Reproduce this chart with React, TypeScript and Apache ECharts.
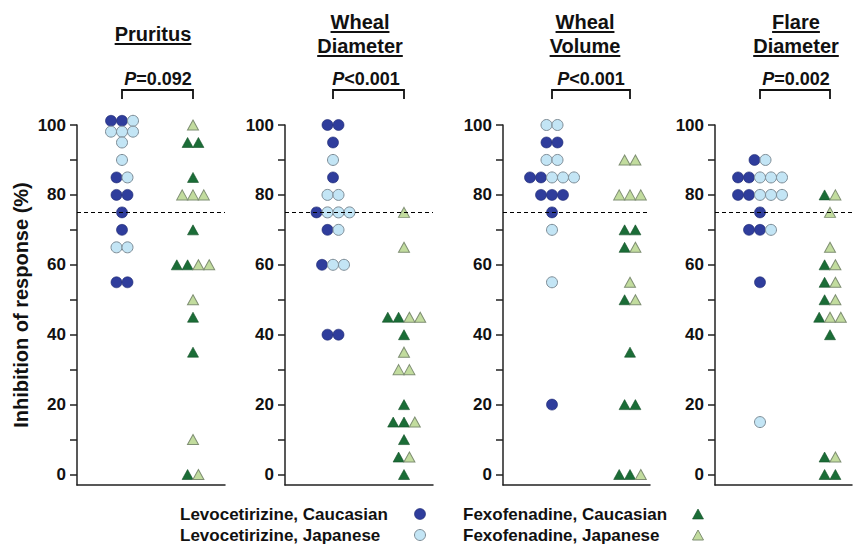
import React, { useEffect, useRef } from "react";
import * as echarts from "echarts";

// ---------- data ----------
const seriesNames = [
  "Levocetirizine, Caucasian",
  "Levocetirizine, Japanese",
  "Fexofenadine, Caucasian",
  "Fexofenadine, Japanese",
];
const panelTitles = [["Pruritus"], ["Wheal", "Diameter"], ["Wheal", "Volume"], ["Flare", "Diameter"]];
const pValues = ["=0.092", "<0.001", "<0.001", "=0.002"];
const yLabelValues = [0, 20, 40, 60, 80, 100];
const yTickValues = [0, 10, 20, 30, 40, 50, 60, 70, 80, 90, 100];
const threshold = 75;

// Pruritus
const pruLevoCau = [101.2, 101.2, 85, 80, 80, 75, 70, 55, 55];
const pruLevoJap = [101.2, 98.1, 98.1, 98.1, 95, 90, 85, 65, 65];
const pruFexoCau = [95, 95, 85, 70, 60, 60, 45, 35, 0];
const pruFexoJap = [100, 80, 80, 80, 60, 60, 50, 10, 0];
// Wheal diameter
const whdLevoCau = [100, 100, 95, 85, 75, 70, 60, 40, 40];
const whdLevoJap = [90, 80, 80, 75, 75, 75, 70, 60, 60];
const whdFexoCau = [45, 45, 40, 20, 15, 15, 10, 5, 0];
const whdFexoJap = [75, 65, 45, 45, 35, 30, 30, 15, 5];
// Wheal volume
const whvLevoCau = [95, 95, 85, 85, 80, 80, 80, 75, 20];
const whvLevoJap = [100, 100, 90, 90, 85, 85, 85, 70, 55];
const whvFexoCau = [70, 70, 65, 50, 35, 20, 20, 0, 0];
const whvFexoJap = [90, 90, 80, 80, 80, 65, 55, 50, 0];
// Flare diameter
const fldLevoCau = [90, 85, 85, 80, 80, 75, 70, 70, 55];
const fldLevoJap = [90, 85, 85, 85, 80, 80, 80, 70, 15];
const fldFexoCau = [80, 60, 55, 50, 45, 40, 5, 0, 0];
const fldFexoJap = [80, 75, 65, 60, 55, 50, 45, 45, 5];

const panelData = [
  [pruLevoCau, pruLevoJap, pruFexoCau, pruFexoJap],
  [whdLevoCau, whdLevoJap, whdFexoCau, whdFexoJap],
  [whvLevoCau, whvLevoJap, whvFexoCau, whvFexoJap],
  [fldLevoCau, fldLevoJap, fldFexoCau, fldFexoJap],
];

// ---------- layout & style ----------
const FONT = '"Liberation Sans", Arial, Helvetica, sans-serif';
const layout = [
  { left: 77, width: 148, levoX: 45, fexoX: 116, titleX: 153, pX: 158 },
  { left: 285, width: 148, levoX: 48, fexoX: 119, titleX: 360, pX: 366 },
  { left: 503, width: 147, levoX: 49, fexoX: 127, titleX: 585, pX: 591 },
  { left: 715, width: 137, levoX: 45, fexoX: 115, titleX: 796, pX: 796 },
];
const GRID_TOP = 125;
const GRID_BOTTOM = 60;
const Y_MIN = -3;
const Y_MAX = 100;

const styles = [
  { symbol: "circle", size: 11, color: "#2f3d9c", border: "#1f2a70", bw: 0.6 },
  { symbol: "circle", size: 11, color: "#c3e5f5", border: "#7d8c96", bw: 1 },
  { symbol: "triangle", size: [11, 10], color: "#1b6d37", border: "#134f27", bw: 0.6 },
  { symbol: "triangle", size: [11, 10], color: "#c2dc9e", border: "#7f8f73", bw: 1 },
];
const STEP_LEVO = 11;
const STEP_FEXO = 10.8;

function swarm(cau: number[], jap: number[], center: number, step: number) {
  const groups = new Map<number, { g: number; v: number }[]>();
  const add = (v: number, g: number) => {
    const k = Math.round(v * 10);
    if (!groups.has(k)) groups.set(k, []);
    groups.get(k)!.push({ g, v });
  };
  cau.forEach((v) => add(v, 0));
  jap.forEach((v) => add(v, 1));
  const out: number[][][] = [[], []];
  groups.forEach((arr) => {
    const n = arr.length;
    arr.forEach((p, i) => {
      out[p.g].push([center + (i - (n - 1) / 2) * step, p.v]);
    });
  });
  return out;
}

function measure(text: string, font: string) {
  const c = document.createElement("canvas").getContext("2d")!;
  c.font = font;
  return c.measureText(text).width;
}

export default function App() {
  const ref = useRef<HTMLDivElement>(null);
  useEffect(() => {
    if (!ref.current) return;
    const chart = echarts.init(ref.current, null, { renderer: "svg" });

    const grids: any[] = [];
    const xAxes: any[] = [];
    const yAxes: any[] = [];
    const series: any[] = [];
    const graphics: any[] = [];

    layout.forEach((L, pi) => {
      grids.push({ left: L.left, width: L.width, top: GRID_TOP, bottom: GRID_BOTTOM });
      xAxes.push({
        gridIndex: pi,
        type: "value",
        min: 0,
        max: L.width,
        axisLine: { show: true, onZero: false, lineStyle: { color: "#222", width: 1.5 } },
        axisTick: { show: false },
        axisLabel: { show: false },
        splitLine: { show: false },
      });
      yAxes.push({
        gridIndex: pi,
        type: "value",
        min: Y_MIN,
        max: Y_MAX,
        axisLine: { show: true, onZero: false, lineStyle: { color: "#222", width: 1.5 } },
        axisTick: { show: true, length: 7, customValues: yTickValues, lineStyle: { color: "#222", width: 1.5 } },
        axisLabel: {
          show: true,
          customValues: yLabelValues,
          margin: 11,
          fontSize: 17,
          fontWeight: "bold",
          color: "#111",
          fontFamily: FONT,
        },
        splitLine: { show: false },
        ...(pi === 0
          ? {
              name: "Inhibition of response (%)",
              nameLocation: "middle",
              nameRotate: 90,
              nameGap: 46,
              nameTextStyle: { fontSize: 20, fontWeight: "bold", color: "#111", fontFamily: FONT },
            }
          : {}),
      });

      const d = panelData[pi];
      const levo = swarm(d[0], d[1], L.levoX, STEP_LEVO);
      const fexo = swarm(d[2], d[3], L.fexoX, STEP_FEXO);
      const pts = [levo[0], levo[1], fexo[0], fexo[1]];

      series.push({
        type: "scatter",
        xAxisIndex: pi,
        yAxisIndex: pi,
        data: [],
        silent: true,
        markLine: {
          silent: true,
          symbol: ["none", "none"],
          label: { show: false },
          lineStyle: { type: [4, 3], color: "#000", width: 1.2 },
          data: [{ yAxis: threshold }],
        },
      });
      pts.forEach((p, si) => {
        const s = styles[si];
        series.push({
          type: "scatter",
          name: seriesNames[si],
          xAxisIndex: pi,
          yAxisIndex: pi,
          clip: false,
          symbol: s.symbol,
          symbolSize: s.size,
          itemStyle: { color: s.color, borderColor: s.border, borderWidth: s.bw, opacity: 1 },
          data: p,
        });
      });

      // titles
      const tFont = `bold 20px ${FONT}`;
      const lines = panelTitles[pi];
      const ys = lines.length === 1 ? [34] : [22, 46];
      lines.forEach((t, li) => {
        const w = measure(t, tFont);
        graphics.push({
          type: "text",
          x: L.titleX,
          y: ys[li],
          style: { text: t, font: tFont, fill: "#111", align: "center", verticalAlign: "middle" },
        });
        graphics.push({
          type: "line",
          shape: { x1: L.titleX - w / 2, y1: ys[li] + 10, x2: L.titleX + w / 2, y2: ys[li] + 10 },
          style: { stroke: "#111", lineWidth: 2 },
        });
      });
      // p value
      graphics.push({
        type: "text",
        x: L.pX,
        y: 79,
        style: {
          text: `{i|P}{b|${pValues[pi]}}`,
          align: "center",
          verticalAlign: "middle",
          rich: {
            i: { font: `italic bold 18px ${FONT}`, fill: "#111" },
            b: { font: `bold 18px ${FONT}`, fill: "#111" },
          },
        },
      });
      const x1 = L.left + L.levoX;
      const x2 = L.left + L.fexoX;
      graphics.push({
        type: "polyline",
        shape: { points: [[x1, 99], [x1, 90], [x2, 90], [x2, 99]] },
        style: { stroke: "#111", lineWidth: 1.8, fill: null },
      });
    });

    // legend
    const lFont = `bold 17px ${FONT}`;
    const legendRows = [514, 535];
    const legendLeft = [180, 463];
    const legendSym = [420, 698];
    seriesNames.forEach((n, i) => {
      const col = i < 2 ? 0 : 1;
      const row = i % 2;
      const y = legendRows[row];
      const s = styles[i];
      graphics.push({
        type: "text",
        x: legendLeft[col],
        y,
        style: { text: n, font: lFont, fill: "#111", align: "left", verticalAlign: "middle" },
      });
      const sx = legendSym[col];
      if (s.symbol === "circle") {
        graphics.push({
          type: "circle",
          shape: { cx: sx, cy: y, r: 5.5 },
          style: { fill: s.color, stroke: s.border, lineWidth: s.bw },
        });
      } else {
        graphics.push({
          type: "polygon",
          shape: { points: [[sx, y - 5], [sx + 5.5, y + 5], [sx - 5.5, y + 5]] },
          style: { fill: s.color, stroke: s.border, lineWidth: s.bw },
        });
      }
    });

    chart.setOption({
      animation: false,
      backgroundColor: "#ffffff",
      grid: grids,
      xAxis: xAxes,
      yAxis: yAxes,
      series,
      graphic: graphics,
    });
    return () => chart.dispose();
  }, []);
  return (
    <div
      ref={ref}
      style={{ position: "fixed", left: 0, top: 0, width: 855, height: 545, background: "#fff" }}
    />
  );
}
